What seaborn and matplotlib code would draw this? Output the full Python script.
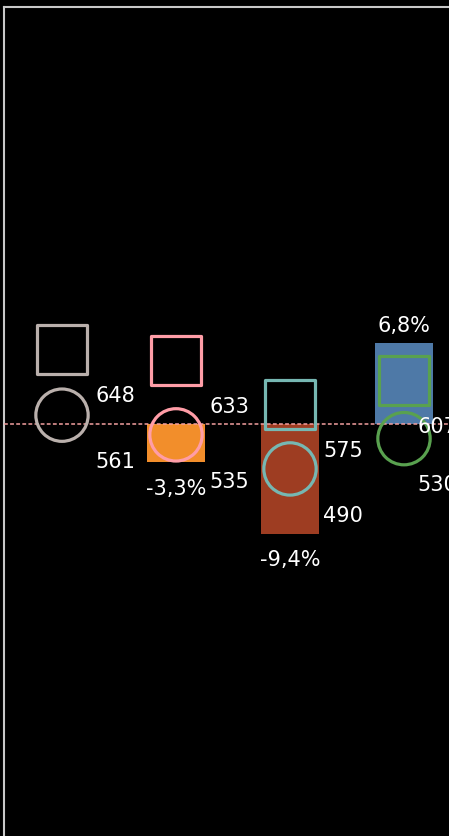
import numpy as np
import pandas as pd
import seaborn as sns
import matplotlib.pyplot as plt

# data
periods = ['P1', 'P2', 'P3', 'P4']
pct_change = [np.nan, -3.3, -9.4, 6.8]
square_values = [648, 633, 575, 607]
circle_values = [561, 535, 490, 530]

bar_colors = ['#000000', '#f28e2b', '#9e3d22', '#4e79a7']
marker_colors = ['#bab0ac', '#ff9da7', '#76b7b2', '#59a14f']

df = pd.DataFrame({'period': periods, 'pct': pct_change,
                   'square': square_values, 'circle': circle_values})

sns.set_theme(style='white')
plt.rcParams['font.family'] = ['DejaVu Sans']

fig = plt.figure(figsize=(4.49, 8.37), dpi=100, facecolor='black')
W, H = 449, 837
# axes runs off the right/bottom edge of the picture
ax = fig.add_axes([4 / W, (H - 841) / H, 460 / W, 833 / H])
ax.set_facecolor('black')

sns.barplot(data=df, x='period', y='pct', hue='period', order=periods,
            palette=dict(zip(periods, bar_colors)), width=0.51,
            legend=False, saturation=1, linewidth=0, edgecolor='none', ax=ax)
ax.axhline(0, color='#f4a0a0', ls=(0, (2.5, 1.5)), lw=1.1, zorder=3)

for i, v in enumerate(pct_change):
    if np.isnan(v):
        continue
    txt = f'{v:.1f}'.replace('.', ',') + '%'
    if v < 0:
        ax.annotate(txt, (i, v), xytext=(0, -11), textcoords='offset points',
                    ha='center', va='top', color='white', fontsize=15)
    else:
        ax.annotate(txt, (i, v), xytext=(0, 6), textcoords='offset points',
                    ha='center', va='bottom', color='white', fontsize=15)

ax.set_xlim(-0.5088, -0.5088 + 460 / 114)
ax.set_ylim(-35.4, 35.4)

ax2 = ax.twinx()
for col, mk, size in [('square', 's', 1270), ('circle', 'o', 1420)]:
    sns.scatterplot(data=df, x='period', y=col, hue='period',
                    palette=dict(zip(periods, marker_colors)), marker=mk,
                    s=size, linewidth=2.3, legend=False, ax=ax2)
    pts = ax2.collections[-1]
    pts.set_edgecolors(pts.get_facecolors())
    pts.set_facecolors('none')
    for i, v in enumerate(df[col]):
        # labels near the right edge get pulled back in, as in the reference
        dx = 24 if i < len(periods) - 1 else 9.5
        ax2.annotate(str(v), (i, v), xytext=(dx, -33),
                     textcoords='offset points', ha='left', va='center',
                     color='white', fontsize=15)

ax2.set_ylim(0, 1100)
ax2.set_xlim(ax.get_xlim())

for a in (ax, ax2):
    a.set_xlabel('')
    a.set_ylabel('')
    a.set_xticks([])
    a.set_yticks([])
    for s in a.spines.values():
        s.set_visible(False)
ax.spines['left'].set_visible(True)
ax.spines['top'].set_visible(True)
ax.spines['left'].set_color('#c8c8c8')
ax.spines['top'].set_color('#c8c8c8')
ax.spines['left'].set_linewidth(1.5)
ax.spines['top'].set_linewidth(1.5)

fig.savefig('out.png', dpi=100, facecolor='black')
